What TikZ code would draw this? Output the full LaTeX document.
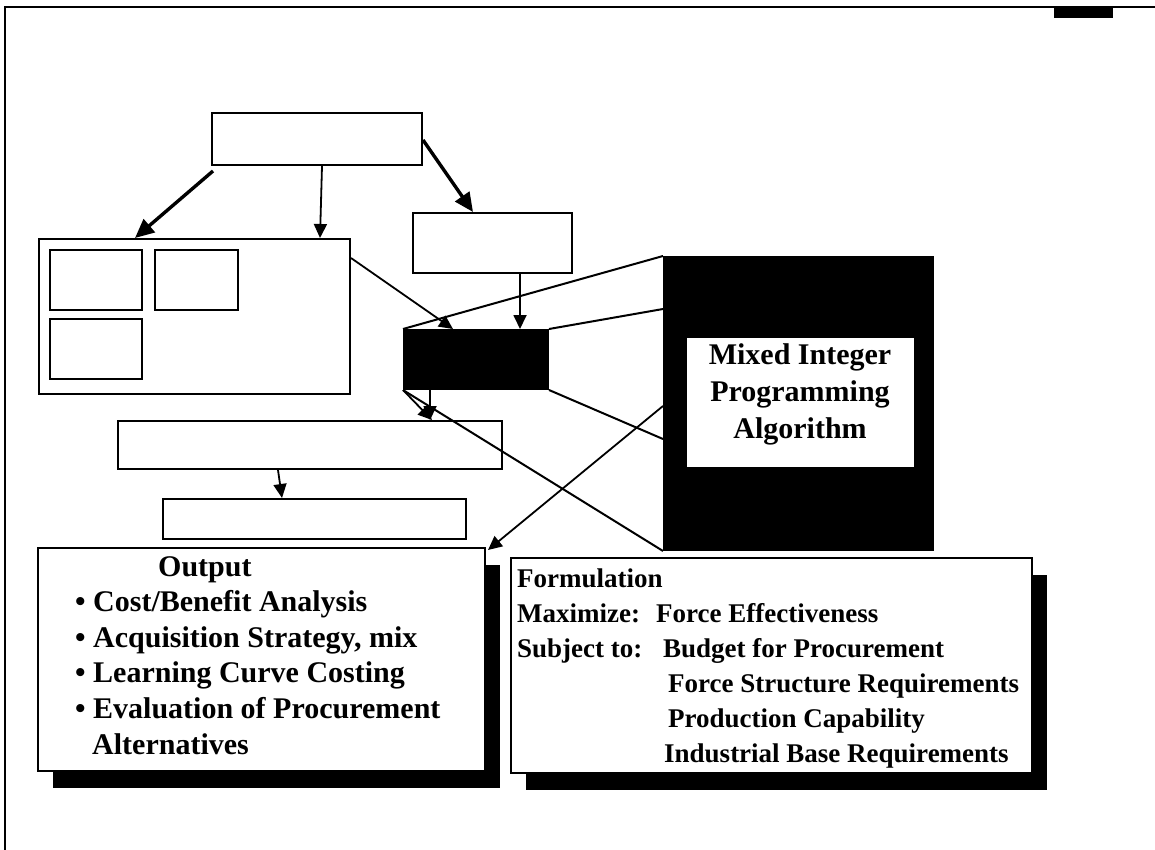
\documentclass[tikz,border=0pt]{standalone}
\usepackage{fontspec}
\setmainfont{Liberation Serif}
\usetikzlibrary{arrows.meta,shadows,positioning}

\tikzset{
  blank/.style={draw, line width=2pt, inner sep=0pt, anchor=north west},
  shadowbox/.style={blank, fill=white,
    drop shadow={shadow xshift=15pt, shadow yshift=-17pt, fill=black, opacity=1}},
  txt/.style={inner sep=0pt, anchor=north west, align=left},
  flow/.style={line width=1.8pt, -{Triangle[length=14pt,width=13pt]}},
  bigflow/.style={line width=3.4pt, -{Triangle[length=19pt,width=17pt]}},
  proj/.style={line width=2pt},
}

\begin{document}
\begin{tikzpicture}[x=1pt,y=-1pt]
\useasboundingbox (0,0) rectangle (1155,850);
% page frame
\draw[line width=2.6pt] (1155,7) -- (5,7) -- (5,850);
\fill (1054,6) rectangle (1113,18);

% empty boxes of the flow
\node[blank, minimum width=210pt, minimum height=52pt] (goal) at (211,112) {};
\node[blank, minimum width=311pt, minimum height=155pt] (inputs) at (38,238) {};
\node[blank, minimum width=92pt, minimum height=60pt] (inA) at (49,249) {};
\node[blank, minimum width=83pt, minimum height=60pt] (inB) at (154,249) {};
\node[blank, minimum width=92pt, minimum height=60pt] (inC) at (49,318) {};
\node[blank, minimum width=159pt, minimum height=60pt] (data) at (412,212) {};
\node[blank, fill=black, minimum width=144pt, minimum height=59pt] (model) at (403,329) {};
\node[blank, minimum width=384pt, minimum height=48pt] (results) at (117,420) {};
\node[blank, minimum width=303pt, minimum height=40pt] (report) at (162,498) {};

% enlarged view of the model
\node[blank, fill=black, minimum width=269pt, minimum height=293pt] (zoom) at (663,256) {};
\node[fill=white, inner sep=0pt, minimum width=227pt, minimum height=129pt] (mip) at (800,402) {};
\node[inner sep=0pt, align=center, font=\bfseries\fontsize{30}{37}\selectfont] (miptext)
  at ([yshift=8pt]mip.center) {Mixed Integer\\Programming\\Algorithm};

% output and formulation
\node[shadowbox, minimum width=447pt, minimum height=223pt] (output) at (37,547) {};
\node[txt, font=\bfseries\fontsize{30}{35.6}\selectfont] (outtext)
  at ([xshift=38pt,yshift=-9pt]output.north west)
  {\hspace*{83pt}Output\\
   \textbullet\ Cost/Benefit Analysis\\
   \textbullet\ Acquisition Strategy, mix\\
   \textbullet\ Learning Curve Costing\\
   \textbullet\ Evaluation of Procurement\\
   \hspace*{17pt}Alternatives};

\node[shadowbox, minimum width=521pt, minimum height=215pt] (form) at (510,557) {};
\node[txt, font=\bfseries\fontsize{27}{35}\selectfont] (formtext)
  at ([xshift=7pt,yshift=-12pt]form.north west)
  {Formulation\\
   \makebox[139pt][l]{Maximize:}Force Effectiveness\\
   \makebox[146pt][l]{Subject to:}Budget for Procurement\\
   \hspace*{151pt}Force Structure Requirements\\
   \hspace*{151pt}Production Capability\\
   \hspace*{147pt}Industrial Base Requirements};

% connectors
\draw[bigflow] ([xshift=2pt,yshift=-5pt]goal.south west) -- ([xshift=97pt]inputs.north west);
\draw[flow] ([xshift=111pt]goal.south west) -- ([xshift=282pt]inputs.north west);
\draw[bigflow] ([yshift=-28pt]goal.north east) -- ([xshift=61pt]data.north west);
\draw[flow] ([xshift=108pt]data.south west) -- ([xshift=117pt]model.north west);
\draw[flow] ([yshift=-20pt]inputs.north east) -- ([xshift=50pt]model.north west);

\draw[proj] (model.north west) -- (zoom.north west);
\draw[proj] (model.north east) -- ([yshift=-53pt]zoom.north west);
\draw[proj] (model.south east) -- ([yshift=112pt]zoom.south west);
\draw[proj] (model.south west) -- (zoom.south west);

\draw[flow] (model.south west) -- ([xshift=315pt]results.north west);
\draw[flow] ([xshift=27pt]model.south west) -- ([xshift=313pt]results.north west);
\draw[flow] ([xshift=161pt]results.south west) -- ([xshift=120pt]report.north west);
\draw[flow] ([yshift=145pt]zoom.south west) -- ([xshift=2pt,yshift=-3pt]output.north east);
\end{tikzpicture}
\end{document}
